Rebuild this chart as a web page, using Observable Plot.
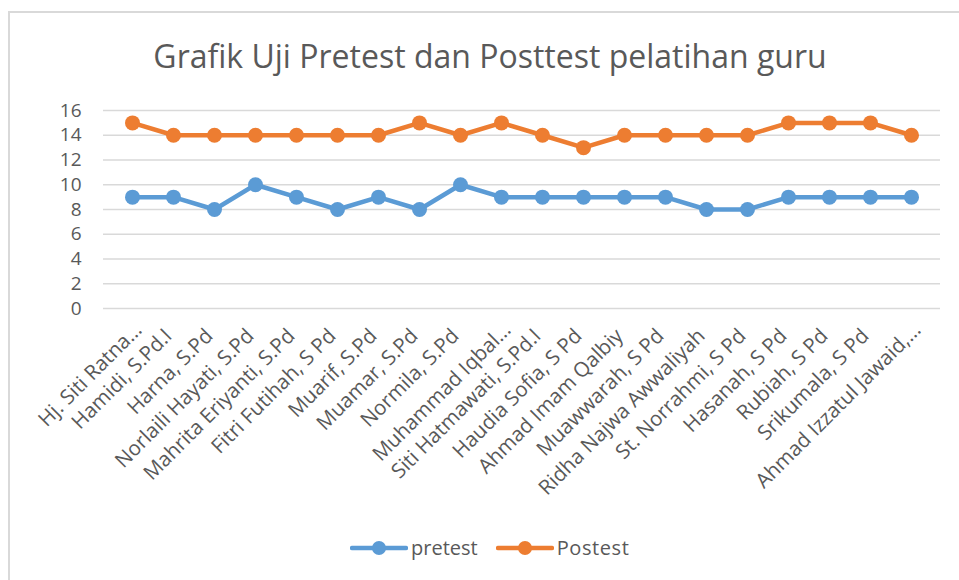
<!DOCTYPE html>
<html>
<head>
<meta charset="utf-8">
<script src="https://cdn.jsdelivr.net/npm/d3@7"></script>
<script src="https://cdn.jsdelivr.net/npm/@observablehq/plot@0.6"></script>
<style>
  html, body { margin: 0; padding: 0; background: #fff; }
  body { width: 959px; height: 580px; position: relative; overflow: hidden; font-family: "Open Sans", sans-serif; }
  #frame { position: absolute; left: 8px; top: 11px; width: 1000px; height: 600px; border-left: 2px solid #d9d9d9; border-top: 2px solid #d9d9d9; box-sizing: border-box; }
  #title { position: absolute; left: 490px; top: 36px; transform: translateX(-50%); white-space: nowrap; font-size: 32px; line-height: 40px; color: #595959; }
  #chart { position: absolute; left: 0; top: 90px; }
  #legend { position: absolute; left: 350px; top: 534px; display: flex; align-items: center; font-size: 20px; color: #595959; }
  #legend .item { display: flex; align-items: center; margin-right: 18px; }
  #legend span.postest { letter-spacing: 0.6px; }
  #legend svg { margin-right: 3px; }
</style>
</head>
<body>
<div id="frame"></div>
<div id="title">Grafik Uji Pretest dan Posttest pelatihan guru</div>
<div id="chart"></div>
<div id="legend"></div>
<script>
const names = [
  "Hj. Siti Ratna…", "Hamidi, S.Pd.I", "Harna, S.Pd", "Norlaili Hayati, S.Pd",
  "Mahrita Eriyanti, S.Pd", "Fitri Futihah, S Pd", "Muarif, S.Pd", "Muamar, S.Pd",
  "Normila, S.Pd", "Muhammad Iqbal…", "Siti Hatmawati, S.Pd.I", "Haudia Sofia, S Pd",
  "Ahmad Imam Qalbiy", "Muawwarah, S Pd", "Ridha Najwa Awwaliyah", "St. Norrahmi, S Pd",
  "Hasanah, S Pd", "Rubiah, S Pd", "Srikumala, S Pd", "Ahmad Izzatul Jawaid,…"
];
const pretest = [9, 9, 8, 10, 9, 8, 9, 8, 10, 9, 9, 9, 9, 9, 8, 8, 9, 9, 9, 9];
const postest = [15, 14, 14, 14, 14, 14, 14, 15, 14, 15, 14, 13, 14, 14, 14, 14, 15, 15, 15, 14];
const yTicks = [0, 2, 4, 6, 8, 10, 12, 14, 16];
const seriesNames = ["pretest", "Postest"];
const seriesColors = ["#5b9bd5", "#ed7d31"];

const rows = [];
names.forEach((n, i) => {
  rows.push({name: n, series: seriesNames[0], value: pretest[i]});
  rows.push({name: n, series: seriesNames[1], value: postest[i]});
});

// Excel places truncated (ellipsis) labels slightly further along the diagonal
const truncated = names.filter(n => n.endsWith("…"));
const full = names.filter(n => !n.endsWith("…"));

const chart = Plot.plot({
  width: 959,
  height: 420,
  marginLeft: 103,
  marginRight: 19,
  marginTop: 20,
  marginBottom: 202,
  style: { fontFamily: "Open Sans, sans-serif", fontSize: "19px", color: "#595959", background: "transparent", overflow: "visible" },
  x: { type: "point", domain: names, padding: 0.5, label: null },
  y: { domain: [0, 16], ticks: yTicks, label: null },
  color: { domain: seriesNames, range: seriesColors },
  marks: [
    Plot.gridY(yTicks, { stroke: "#d9d9d9", strokeOpacity: 1, strokeWidth: 1.5 }),
    Plot.axisY(yTicks, { tickSize: 0, tickPadding: 22, fontSize: 19, fill: "#595959" }),
    Plot.axisX(full, { tickSize: 0, tickPadding: 14, tickRotate: -45, fontSize: 20.5, fill: "#595959", dx: -5, dy: 10 }),
    Plot.axisX(truncated, { tickSize: 0, tickPadding: 14, tickRotate: -45, fontSize: 20.5, fill: "#595959", dx: 6, dy: 4 }),
    Plot.line(rows, { x: "name", y: "value", z: "series", stroke: "series", strokeWidth: 4.5 }),
    Plot.dot(rows, { x: "name", y: "value", fill: "series", r: 7.5 })
  ]
});
document.getElementById("chart").appendChild(chart);

const legend = document.getElementById("legend");
seriesNames.forEach((s, i) => {
  const item = document.createElement("div");
  item.className = "item";
  item.innerHTML = `<svg width="58" height="18"><line x1="2" y1="9" x2="56" y2="9" stroke="${seriesColors[i]}" stroke-width="4.5" stroke-linecap="round"/><circle cx="29" cy="9" r="7" fill="${seriesColors[i]}"/></svg><span class="${s.toLowerCase()}">${s}</span>`;
  legend.appendChild(item);
});
</script>
</body>
</html>
